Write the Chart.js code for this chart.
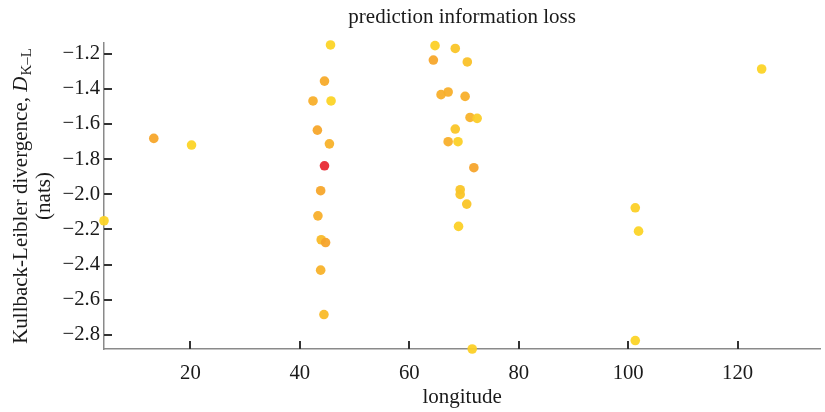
<!DOCTYPE html>
<html>
<head>
<meta charset="utf-8">
<script src="https://cdn.jsdelivr.net/npm/chart.js@4/dist/chart.umd.min.js"></script>
<style>
  html, body { margin: 0; padding: 0; background: #ffffff; }
  #wrap { width: 825px; height: 412px; }
</style>
</head>
<body>
<div id="wrap"><canvas id="c" width="825" height="412"></canvas></div>
<script>
// ---- data ----
const chartTitle = 'prediction information loss';
const xAxisTitle = 'longitude';
const yTitleMain = 'Kullback-Leibler divergence, ';
const yTitleSymbol = 'D';
const yTitleSub = 'K\u2013L';
const yTitleUnit = '(nats)';

const longitude = [
  4.2, 13.3, 20.2,
  45.6, 44.5, 42.4, 45.7, 43.2, 45.4, 44.5, 43.8, 43.3, 43.9, 44.7, 43.8, 44.4,
  64.7, 68.4, 64.4, 70.6, 65.8, 67.1, 70.2, 71.1, 72.4, 68.4, 67.1, 68.9, 71.8,
  69.3, 69.3, 70.5, 69.0, 71.5,
  101.3, 101.9, 101.3, 124.4
];
const klDivergence = [
  -2.151, -1.682, -1.720,
  -1.150, -1.356, -1.469, -1.469, -1.635, -1.713, -1.838, -1.980, -2.123, -2.259, -2.275, -2.432, -2.685,
  -1.154, -1.170, -1.236, -1.247, -1.433, -1.418, -1.443, -1.563, -1.568, -1.629, -1.701, -1.701, -1.849,
  -1.974, -2.001, -2.056, -2.183, -2.881,
  -2.077, -2.210, -2.833, -1.287
];
// relative shading of each point (0 = yellow, 1 = red)
const lossLevel = [
  0.1, 0.7, 0.1,
  0.1, 0.65, 0.6, 0.1, 0.7, 0.55, 1.0, 0.7, 0.6, 0.45, 0.75, 0.55, 0.45,
  0.15, 0.3, 0.7, 0.35, 0.6, 0.6, 0.6, 0.55, 0.2, 0.3, 0.6, 0.15, 0.75,
  0.3, 0.3, 0.3, 0.15, 0.15,
  0.15, 0.1, 0.1, 0.1
];
const xTickValues = [20, 40, 60, 80, 100, 120];
const yTickValues = [-2.8, -2.6, -2.4, -2.2, -2.0, -1.8, -1.6, -1.4, -1.2];
const xRange = [4.2, 135.1];
const yRange = [-2.881, -1.139];

// ---- styling helpers ----
const SERIF = '"Liberation Serif", "Times New Roman", serif';
const TEXT = '#1a1a1a';
const stops = [[0, [253, 219, 38]], [0.8, [246, 160, 44]], [1, [232, 42, 52]]];
function levelColor(v) {
  for (let i = 1; i < stops.length; i++) {
    if (v <= stops[i][0]) {
      const [a, ca] = stops[i - 1], [b, cb] = stops[i];
      const t = (v - a) / (b - a);
      const c = ca.map((x, k) => Math.round(x + (cb[k] - x) * t));
      return `rgba(${c[0]},${c[1]},${c[2]},0.95)`;
    }
  }
  const c = stops[stops.length - 1][1];
  return `rgba(${c[0]},${c[1]},${c[2]},0.95)`;
}

const points = longitude.map((x, i) => ({ x, y: klDivergence[i] }));
const colors = lossLevel.map(levelColor);

// inward tick marks, placed through the library's scales
const innerTicks = {
  id: 'innerTicks',
  beforeDatasetsDraw(chart) {
    const { ctx } = chart;
    const xs = chart.scales.x, ys = chart.scales.y;
    const len = 8;
    ctx.save();
    ctx.strokeStyle = '#333';
    ctx.lineWidth = 2;
    xTickValues.forEach(v => {
      const px = Math.round(xs.getPixelForValue(v));
      ctx.beginPath();
      ctx.moveTo(px, xs.top);
      ctx.lineTo(px, xs.top - len);
      ctx.stroke();
    });
    yTickValues.forEach(v => {
      const py = Math.round(ys.getPixelForValue(v));
      ctx.beginPath();
      ctx.moveTo(ys.right, py);
      ctx.lineTo(ys.right + len, py);
      ctx.stroke();
    });
    ctx.restore();
  }
};

const yTitlePlugin = {
  id: 'yTitle',
  afterDraw(chart) {
    const { ctx, chartArea } = chart;
    const cy = (chartArea.top + chartArea.bottom) / 2;
    const mainFont = `21px ${SERIF}`;
    const symFont = `italic 21px ${SERIF}`;
    const subFont = `15px ${SERIF}`;
    ctx.save();
    ctx.fillStyle = TEXT;
    ctx.textBaseline = 'alphabetic';
    ctx.font = mainFont; const w1 = ctx.measureText(yTitleMain).width;
    ctx.font = symFont; const w2 = ctx.measureText(yTitleSymbol).width;
    ctx.font = subFont; const w3 = ctx.measureText(yTitleSub).width;
    const total = w1 + w2 + 1 + w3;
    ctx.translate(27, cy);
    ctx.rotate(-Math.PI / 2);
    let x = -total / 2;
    ctx.textAlign = 'left';
    ctx.font = mainFont; ctx.fillText(yTitleMain, x, 0); x += w1;
    ctx.font = symFont; ctx.fillText(yTitleSymbol, x, 0); x += w2 + 1;
    ctx.font = subFont; ctx.fillText(yTitleSub, x, 4);
    ctx.restore();
    ctx.save();
    ctx.fillStyle = TEXT;
    ctx.font = mainFont;
    ctx.textAlign = 'center';
    ctx.textBaseline = 'alphabetic';
    ctx.translate(50, cy);
    ctx.rotate(-Math.PI / 2);
    ctx.fillText(yTitleUnit, 0, 0);
    ctx.restore();
  }
};

new Chart(document.getElementById('c'), {
  type: 'scatter',
  data: {
    datasets: [{
      data: points,
      pointBackgroundColor: colors,
      pointBorderWidth: 0,
      pointRadius: 4.8,
      pointHoverRadius: 4.8,
      clip: false
    }]
  },
  options: {
    responsive: false,
    animation: false,
    devicePixelRatio: 1,
    layout: { padding: { left: 0, right: 1, top: 0, bottom: 0 } },
    plugins: {
      legend: { display: false },
      tooltip: { enabled: false },
      title: {
        display: true,
        text: chartTitle,
        fullSize: false,
        color: TEXT,
        font: { family: SERIF, size: 21, weight: 'normal' },
        padding: { top: 4.4, bottom: 13.4 }
      }
    },
    scales: {
      x: {
        type: 'linear',
        min: xRange[0], max: xRange[1],
        afterBuildTicks: s => { s.ticks = xTickValues.map(v => ({ value: v })); },
        afterFit: s => { s.height = 63; },
        border: { display: true, color: '#8a8a8a', width: 1.5 },
        grid: { display: false, drawTicks: false },
        ticks: { color: TEXT, font: { family: SERIF, size: 20.7 }, padding: 12.6, maxRotation: 0, callback: v => String(v) },
        title: { display: true, text: xAxisTitle, color: TEXT, font: { family: SERIF, size: 21 }, padding: { top: 0, bottom: 2.4 } }
      },
      y: {
        type: 'linear',
        min: yRange[0], max: yRange[1],
        afterBuildTicks: s => { s.ticks = yTickValues.map(v => ({ value: v })); },
        afterFit: s => { s.width = 104; },
        border: { display: true, color: '#8a8a8a', width: 1.5 },
        grid: { display: false, drawTicks: false },
        ticks: { color: TEXT, font: { family: SERIF, size: 20.7 }, padding: 4, callback: v => v.toFixed(1).replace('-', '\u2212') }
      }
    }
  },
  plugins: [innerTicks, yTitlePlugin]
});
</script>
</body>
</html>
